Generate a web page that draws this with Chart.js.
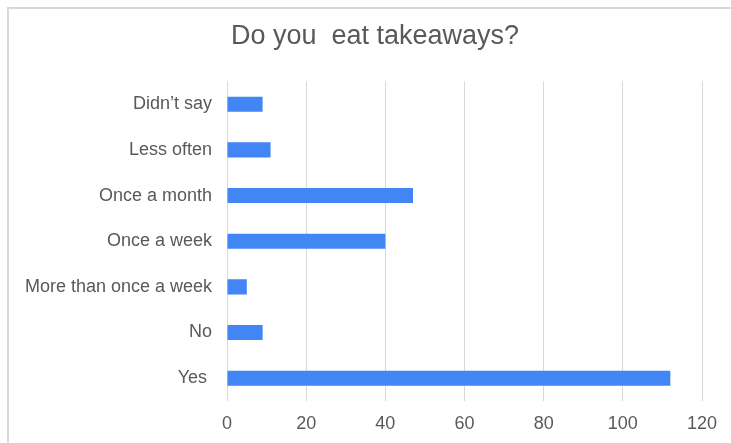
<!DOCTYPE html>
<html>
<head>
<meta charset="utf-8">
<script src="https://cdn.jsdelivr.net/npm/chart.js@4"></script>
<style>
html,body{margin:0;padding:0;background:#fff;}
#wrap{width:731px;height:443px;position:relative;}
</style>
</head>
<body>
<div id="wrap"><canvas id="c" width="731" height="443"></canvas></div>
<script>
const categories = ["Didn\u2019t say", "Less often", "Once a month", "Once a week", "More than once a week", "No", "Yes "];
const counts = [9, 11, 47, 40, 5, 9, 112];
const xTicks = [0, 20, 40, 60, 80, 100, 120];
const chartTitle = "Do you  eat takeaways?";

const borderPlugin = {
  id: 'outerBorder',
  beforeDraw(chart) {
    const ctx = chart.ctx;
    ctx.save();
    ctx.fillStyle = '#ffffff';
    ctx.fillRect(0, 0, chart.width, chart.height);
    ctx.strokeStyle = '#d9d9d9';
    ctx.lineWidth = 2;
    ctx.beginPath();
    ctx.moveTo(8, chart.height + 2);
    ctx.lineTo(8, 8);
    ctx.lineTo(chart.width + 2, 8);
    ctx.stroke();
    ctx.restore();
  }
};

const FONT = 'Liberation Sans, Arial, sans-serif';

new Chart(document.getElementById('c'), {
  type: 'bar',
  data: {
    labels: categories,
    datasets: [{
      data: counts,
      backgroundColor: '#4285F4',
      borderWidth: 0,
      categoryPercentage: 1,
      barPercentage: 0.33
    }]
  },
  plugins: [borderPlugin],
  options: {
    indexAxis: 'y',
    responsive: false,
    animation: false,
    layout: { padding: { left: 19, right: 0, top: 0, bottom: 0 } },
    plugins: {
      legend: { display: false },
      tooltip: { enabled: false },
      title: {
        display: true,
        text: chartTitle,
        color: '#595959',
        font: { family: FONT, size: 27, weight: 'normal' },
        padding: { top: 20, bottom: 29 }
      }
    },
    scales: {
      x: {
        min: 0,
        max: 120,
        afterBuildTicks(scale) { scale.ticks = xTicks.map(v => ({ value: v })); },
        afterFit(scale) { scale.height = 42; },
        grid: { color: '#d9d9d9', lineWidth: 1, drawTicks: false },
        border: { display: false },
        ticks: {
          color: '#595959',
          padding: 12,
          maxRotation: 0,
          font: { family: FONT, size: 18 }
        }
      },
      y: {
        grid: { display: false, drawTicks: false },
        border: { display: false },
        afterFit(scale) { scale.width = 208; },
        ticks: {
          color: '#595959',
          padding: 15,
          font: { family: FONT, size: 18 }
        }
      },
      yRight: {
        axis: 'y',
        type: 'category',
        position: 'right',
        display: true,
        grid: { display: false, drawTicks: false },
        border: { display: false },
        ticks: { display: false },
        afterFit(scale) { scale.width = 29; }
      }
    }
  }
});
</script>
</body>
</html>
